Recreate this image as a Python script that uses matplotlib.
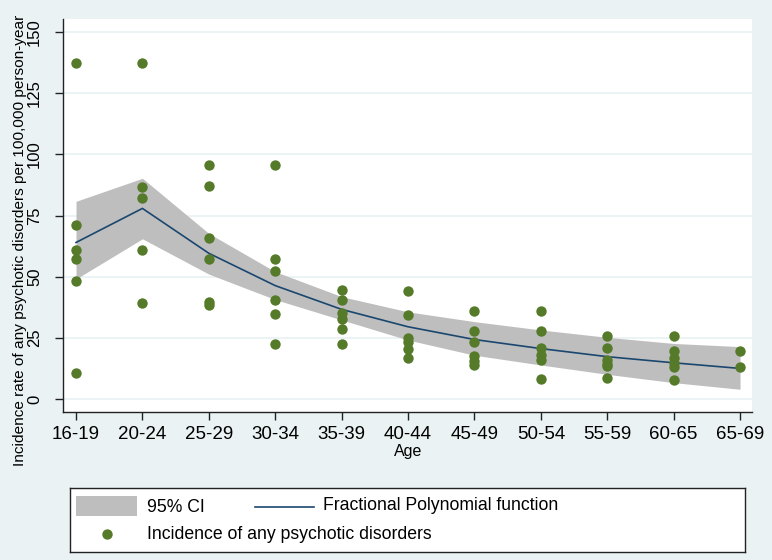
import matplotlib
matplotlib.use("Agg")
import matplotlib.pyplot as plt
from matplotlib.patches import Rectangle

plt.rcParams['font.family'] = ['Liberation Sans', 'DejaVu Sans']

# ---------------- data ----------------
age_groups = ["16-19", "20-24", "25-29", "30-34", "35-39", "40-44",
              "45-49", "50-54", "55-59", "60-65", "65-69"]

incidence_points = {
    "16-19": [137.3, 71.1, 61.0, 57.4, 48.3, 10.9],
    "20-24": [137.3, 86.5, 82.3, 61.0, 39.4],
    "25-29": [95.5, 86.9, 65.8, 57.4, 39.8, 38.6],
    "30-34": [95.5, 57.4, 52.2, 40.5, 34.7, 22.7],
    "35-39": [44.5, 40.5, 35.1, 32.8, 28.6, 22.7],
    "40-44": [44.3, 34.5, 24.9, 23.3, 20.5, 16.8],
    "45-49": [35.9, 27.7, 23.4, 17.7, 15.7, 13.9],
    "50-54": [36.0, 27.7, 21.1, 18.1, 16.0, 8.3],
    "55-59": [25.9, 20.8, 16.0, 14.4, 13.6, 8.8],
    "60-65": [25.9, 19.6, 16.7, 14.7, 13.3, 7.9],
    "65-69": [19.6, 13.3],
}

fp_fit = [64.0, 77.9, 59.6, 46.4, 36.7, 29.6, 24.4, 20.7, 17.4, 14.9, 12.6]
ci_upper = [80.8, 90.2, 67.7, 52.1, 41.9, 35.7, 31.7, 28.3, 25.3, 22.8, 21.5]
ci_lower = [49.1, 65.5, 51.1, 40.7, 32.4, 24.2, 18.0, 14.0, 10.2, 6.8, 4.1]

y_ticks = [0, 25, 50, 75, 100, 125, 150]

# ---------------- styles ----------------
BG = '#EAF2F3'
GREEN = '#557A29'
NAVY = '#1A476F'
GRAY = '#BEBEBE'

W, H = 772, 560
fig = plt.figure(figsize=(W / 100, H / 100), dpi=100, facecolor=BG)
ax = fig.add_axes([63 / W, (H - 412) / H, (752 - 63) / W, (412 - 19) / H])
ax.set_facecolor('white')

xs = list(range(len(age_groups)))
ax.fill_between(xs, ci_lower, ci_upper, color=GRAY, linewidth=0, zorder=2)
ax.plot(xs, fp_fit, color=NAVY, linewidth=1.2, zorder=3)
for i, g in enumerate(age_groups):
    vals = incidence_points[g]
    ax.scatter([i] * len(vals), vals, s=56, color=GREEN, linewidths=0, zorder=4)

ax.set_xlim(-0.196, 10.18)
ax.set_ylim(-5.18, 155.2)
ax.set_xticks(xs)
ax.set_xticklabels(age_groups, fontsize=13.5)
ax.set_yticks(y_ticks)
ax.set_yticklabels([str(t) for t in y_ticks], fontsize=12, rotation=90, va='center')
ax.yaxis.grid(True, color=BG, linewidth=1.3, zorder=0)
ax.set_axisbelow(True)
for s in ['top', 'right']:
    ax.spines[s].set_visible(False)
for s in ['left', 'bottom']:
    ax.spines[s].set_color('#222222')
    ax.spines[s].set_linewidth(1.0)
ax.tick_params(axis='both', direction='out', length=6, width=1, color='#222222')
ax.tick_params(axis='x', pad=4)
ax.tick_params(axis='y', pad=9)

fig.text(20.5 / W, 1 - 240.5 / H,
         "Incidence rate of any psychotic disorders per 100,000 person-year",
         rotation=90, ha='center', va='center', fontsize=11.1)
fig.text(407.7 / W, 1 - 451.7 / H, "Age", ha='center', va='center', fontsize=11.5)

# ---------------- legend ----------------
lx0, lx1, ly0, ly1 = 70, 745.3, 487.7, 551.7
lax = fig.add_axes([lx0 / W, (H - ly1) / H, (lx1 - lx0) / W, (ly1 - ly0) / H])
lax.set_xlim(0, lx1 - lx0)
lax.set_ylim(ly1 - ly0, 0)
lax.set_xticks([])
lax.set_yticks([])
lax.set_facecolor('white')
for s in lax.spines.values():
    s.set_color('#222222')
    s.set_linewidth(1.0)
lax.add_patch(Rectangle((6, 8), 61.3, 20.6, color=GRAY, linewidth=0))
lax.text(76.7, 20, "95% CI", va='center', ha='left', fontsize=12.7)
lax.plot([185, 244.3], [19, 19], color=NAVY, linewidth=1.2)
lax.text(253.3, 17.5, "Fractional Polynomial function", va='center', ha='left', fontsize=12.7)
lax.scatter([36.7], [46], s=56, color=GREEN, linewidths=0)
lax.text(76.7, 46.8, "Incidence of any psychotic disorders", va='center', ha='left', fontsize=12.7)

fig.savefig("out.png", dpi=100, facecolor=BG)
